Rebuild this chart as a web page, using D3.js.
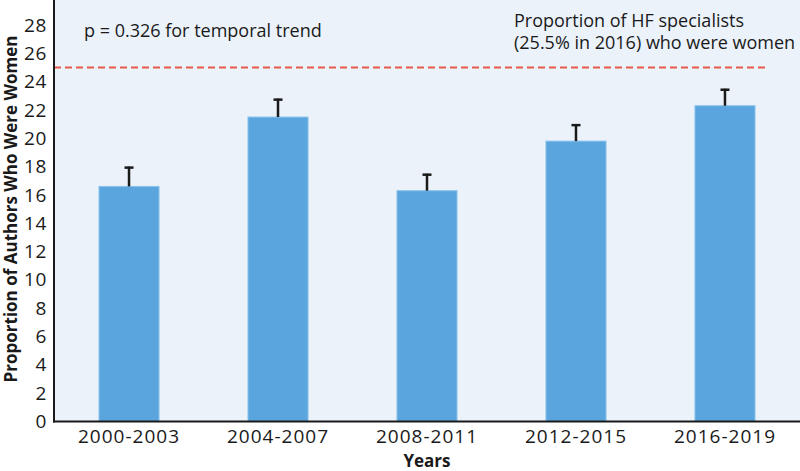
<!DOCTYPE html>
<html>
<head>
<meta charset="utf-8">
<script src="https://cdn.jsdelivr.net/npm/d3@7"></script>
<style>
  html, body { margin: 0; padding: 0; background: #fff; }
  svg { display: block; }
  text { font-family: "Open Sans", "DejaVu Sans", sans-serif; fill: #1a1a1a; }
</style>
</head>
<body>
<svg id="chart" width="800" height="471"></svg>
<script>
const categories = ["2000-2003", "2004-2007", "2008-2011", "2012-2015", "2016-2019"];
const values = [16.6, 21.5, 16.3, 19.8, 22.3];
const errorUpper = [18.0, 22.8, 17.5, 21.0, 23.5];
const yTicks = [0, 2, 4, 6, 8, 10, 12, 14, 16, 18, 20, 22, 24, 26, 28];
const referenceValue = 25;
const pText = "p = 0.326 for temporal trend";
const refLabel = ["Proportion of HF specialists", "(25.5% in 2016) who were women"];

const svg = d3.select("#chart");
const left = 54, right = 800, bottom = 421.5;

const x = d3.scaleBand().domain(categories).range([left, right])
  .paddingInner(0.597).paddingOuter(0.302);
const y = d3.scaleLinear().domain([0, 28]).range([bottom, 25]);

// background panel
svg.append("rect").attr("x", left).attr("y", 0)
  .attr("width", right - left).attr("height", bottom)
  .attr("fill", "#EBF2FA");

// bars
svg.append("g").selectAll("rect").data(categories).join("rect")
  .attr("x", d => x(d))
  .attr("y", (d, i) => y(values[i]))
  .attr("width", x.bandwidth())
  .attr("height", (d, i) => y(0) - y(values[i]))
  .attr("fill", "#5AA5DD")
  .attr("stroke", "#8CC2EC").attr("stroke-width", 1);

// error bars
const eb = svg.append("g").attr("stroke", "#1a1a1a");
categories.forEach((d, i) => {
  const cx = x(d) + x.bandwidth() / 2;
  eb.append("line").attr("x1", cx).attr("x2", cx)
    .attr("y1", y(values[i])).attr("y2", y(errorUpper[i]))
    .attr("stroke-width", 2.5);
  eb.append("line").attr("x1", cx - 4.5).attr("x2", cx + 4.5)
    .attr("y1", y(errorUpper[i]) + 1).attr("y2", y(errorUpper[i]) + 1)
    .attr("stroke-width", 2.5);
});

// reference dashed line
svg.append("line")
  .attr("x1", left).attr("x2", 767)
  .attr("y1", y(referenceValue)).attr("y2", y(referenceValue))
  .attr("stroke", "#E8594B").attr("stroke-width", 2)
  .attr("stroke-dasharray", "7,4");

// y axis
const yAxis = svg.append("g").attr("transform", `translate(${left},0)`)
  .call(d3.axisLeft(y).tickValues(yTicks).tickSize(0).tickPadding(7));
yAxis.select(".domain").remove();
yAxis.selectAll("text").attr("font-size", 19).attr("letter-spacing", 0.6)
  .attr("font-family", "Open Sans, sans-serif").attr("fill", "#1a1a1a");

// x axis
const xAxis = svg.append("g").attr("transform", `translate(0,${bottom})`)
  .call(d3.axisBottom(x).tickSize(0).tickPadding(8));
xAxis.select(".domain").remove();
xAxis.selectAll("text").attr("font-size", 19).attr("letter-spacing", 1)
  .attr("font-family", "Open Sans, sans-serif").attr("fill", "#1a1a1a");

// axis lines
svg.append("line").attr("x1", left).attr("x2", left).attr("y1", 0).attr("y2", bottom + 1)
  .attr("stroke", "#1a1a1a").attr("stroke-width", 2);
svg.append("line").attr("x1", left - 1).attr("x2", right).attr("y1", bottom).attr("y2", bottom)
  .attr("stroke", "#1a1a1a").attr("stroke-width", 2);

// axis titles
svg.append("text").attr("x", (left + right) / 2).attr("y", 467)
  .attr("text-anchor", "middle").attr("font-size", 17).attr("font-weight", "bold")
  .text("Years");
svg.append("text")
  .attr("transform", `translate(17,${209}) rotate(-90)`)
  .attr("text-anchor", "middle").attr("font-size", 17).attr("font-weight", "bold")
  .text("Proportion of Authors Who Were Women");

// annotations
svg.append("text").attr("x", 84).attr("y", 37).attr("font-size", 18).text(pText);
svg.append("text").attr("x", 514).attr("y", 27).attr("font-size", 18).text(refLabel[0]);
svg.append("text").attr("x", 514).attr("y", 49).attr("font-size", 18).text(refLabel[1]);
</script>
</body>
</html>
